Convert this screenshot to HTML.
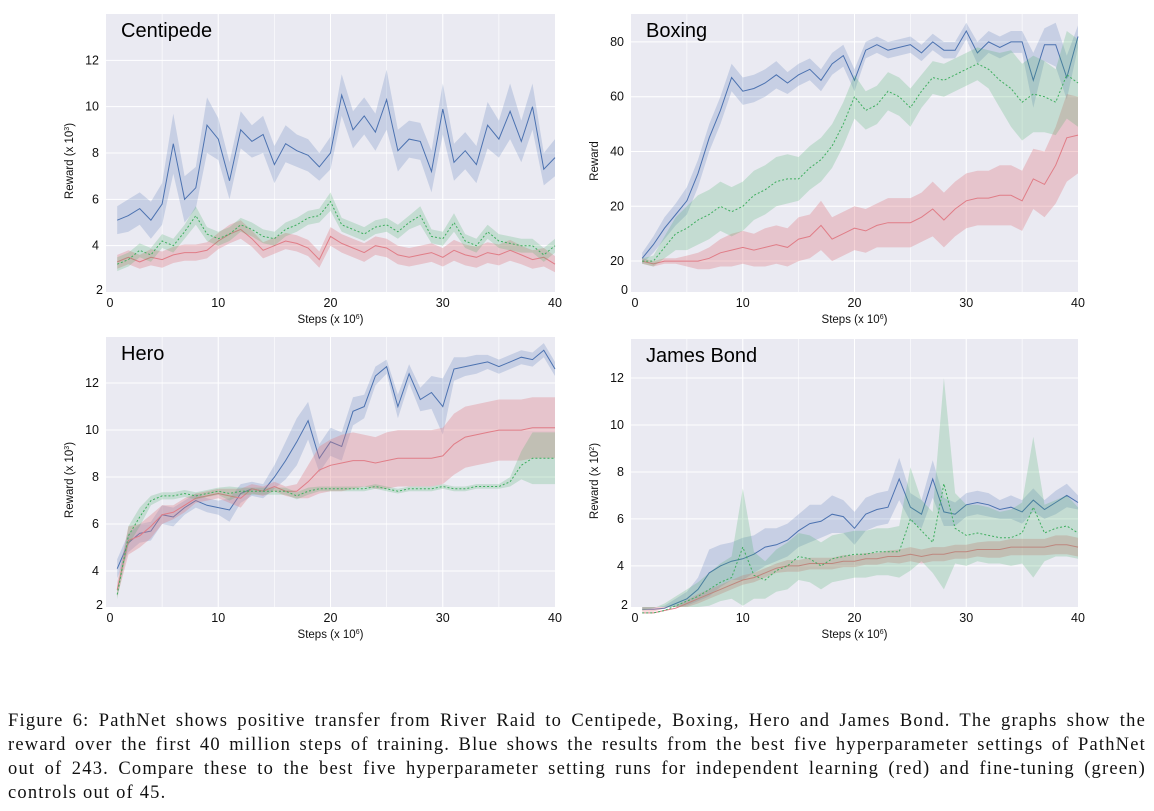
<!DOCTYPE html>
<html><head><meta charset="utf-8">
<style>
html,body{margin:0;padding:0;background:#fff;}
body{width:1154px;height:811px;position:relative;overflow:hidden;}
svg{position:absolute;left:0;top:0;}
#caption{position:absolute;left:8px;top:709px;width:1138px;font-family:"Liberation Serif",serif;font-size:18.5px;letter-spacing:1.2px;line-height:24px;color:#111;}
#caption .ln{display:block;white-space:nowrap;text-align:justify;text-align-last:justify;}
#caption .last{display:block;text-align:left;}
</style></head>
<body>
<svg id="chart" width="1154" height="700" font-family="Liberation Sans, sans-serif"></svg>
<div id="caption"><span class="ln">Figure 6: PathNet shows positive transfer from River Raid to Centipede, Boxing, Hero and James Bond. The graphs show the</span><span class="ln">reward over the first 40 million steps of training. Blue shows the results from the best five hyperparameter settings of PathNet</span><span class="ln">out of 243. Compare these to the best five hyperparameter setting runs for independent learning (red) and fine-tuning (green)</span><span class="last">controls out of 45.</span></div>
<script>
// ---- data (x = 1..40, steps x10^6) ----
const steps = [1,2,3,4,5,6,7,8,9,10,11,12,13,14,15,16,17,18,19,20,21,22,23,24,25,26,27,28,29,30,31,32,33,34,35,36,37,38,39,40];
const xTicks = [0,10,20,30,40];

const centBlue = [5.1,5.3,5.6,5.1,5.8,8.4,6.0,6.5,9.2,8.6,6.8,9.0,8.5,8.8,7.5,8.4,8.1,7.9,7.4,8.0,10.5,9.0,9.6,8.9,10.3,8.1,8.6,8.5,7.2,9.9,7.6,8.1,7.5,9.2,8.6,9.8,8.5,10.0,7.3,7.8];
const centBlueSpread = [0.6,0.7,0.7,0.8,0.9,1.3,1.0,0.9,1.2,0.9,0.8,0.8,0.7,0.8,0.8,0.8,0.7,0.7,0.6,0.7,0.9,0.8,0.8,0.8,1.3,0.9,0.8,0.8,0.9,1.1,0.8,0.8,0.8,1.0,0.8,1.2,0.9,1.0,0.7,0.8];
const centGreen = [3.2,3.4,3.8,3.6,4.2,4.0,4.6,5.3,4.5,4.3,4.5,4.9,4.7,4.4,4.3,4.7,4.9,5.2,5.3,5.9,4.9,4.7,4.5,4.8,4.9,4.6,5.0,5.3,4.4,4.3,5.0,4.2,4.0,4.6,4.2,4.1,4.0,4.0,3.6,4.0];
const centGreenSpread = [0.3,0.3,0.3,0.3,0.3,0.3,0.3,0.4,0.3,0.3,0.3,0.3,0.3,0.3,0.3,0.3,0.3,0.3,0.3,0.4,0.3,0.3,0.3,0.3,0.3,0.3,0.3,0.4,0.3,0.3,0.4,0.3,0.3,0.3,0.3,0.3,0.3,0.3,0.3,0.3];
const centRed = [3.3,3.5,3.3,3.5,3.4,3.6,3.7,3.7,3.8,4.2,4.5,4.7,4.3,3.8,4.0,4.2,4.1,3.9,3.4,4.4,4.1,3.9,3.7,4.0,3.9,3.6,3.5,3.6,3.7,3.5,3.8,3.6,3.5,3.7,3.6,3.8,3.6,3.4,3.5,3.2];
const centRedSpread = [0.3,0.3,0.3,0.35,0.35,0.35,0.35,0.35,0.35,0.35,0.4,0.4,0.35,0.35,0.35,0.35,0.35,0.35,0.35,0.4,0.4,0.4,0.4,0.4,0.4,0.4,0.4,0.4,0.4,0.4,0.45,0.45,0.45,0.45,0.45,0.45,0.4,0.4,0.4,0.35];

const boxBlue = [1,6,12,17,22,32,45,55,67,62,63,65,68,65,68,70,66,72,75,66,77,79,77,78,79,76,80,77,77,84,76,80,78,80,80,66,79,79,67,82];
const boxBlueSpread = [2,3,4,4,5,5,5,5,5,5,5,5,5,4,4,4,4,4,4,4,3,3,3,3,3,3,3,3,3,3,4,4,4,4,4,10,6,8,8,4];
const boxGreen = [0,0,5,10,12,15,17,20,18,20,24,26,29,30,30,34,37,42,50,60,55,57,62,60,56,62,67,66,68,70,72,70,66,63,58,61,60,58,68,65];
const boxGreenSpread = [1,2,4,6,8,9,9,9,9,9,9,9,9,9,8,8,8,8,8,8,7,7,7,7,7,6,6,6,6,6,6,7,10,14,14,14,13,12,16,16];
const boxRed = [0,-1,0,0,0,0,1,3,4,5,4,5,6,5,8,9,13,8,10,12,11,13,14,14,14,16,19,15,19,22,23,23,24,24,22,30,28,35,45,46];
const boxRedSpread = [1,1,1,1,2,3,4,5,6,6,6,7,7,7,8,8,9,8,8,8,8,8,9,9,9,9,10,10,10,10,10,10,11,11,11,11,12,14,16,14];
const boxTickLabels = ["20","20","40","60","80"];

const heroBlue = [4.1,5.2,5.6,5.7,6.4,6.3,6.7,7.0,6.8,6.7,6.6,7.3,7.5,7.4,8.0,8.7,9.5,10.4,8.8,9.5,9.3,10.8,11.0,12.3,12.7,11.0,12.4,11.3,11.6,11.0,12.6,12.7,12.8,12.9,12.7,12.9,13.1,13.0,13.4,12.6];
const heroBlueSpread = [0.4,0.4,0.4,0.4,0.4,0.4,0.3,0.3,0.3,0.3,0.5,0.4,0.3,0.3,0.5,0.8,1.0,0.8,0.6,0.6,0.6,0.6,0.5,0.4,0.3,0.5,0.4,0.5,0.7,1.2,0.5,0.4,0.4,0.3,0.3,0.3,0.3,0.3,0.3,0.3];
const heroRed = [3.2,5.3,5.5,5.9,6.4,6.5,6.8,7.1,7.2,7.3,7.2,7.1,7.5,7.4,7.6,7.4,7.4,7.8,8.3,8.5,8.6,8.7,8.7,8.6,8.7,8.8,8.8,8.8,8.8,8.9,9.4,9.7,9.8,9.9,10.0,10.0,10.0,10.1,10.1,10.1];
const heroRedSpread = [0.3,0.6,0.5,0.5,0.4,0.3,0.3,0.2,0.2,0.2,0.3,0.4,0.2,0.2,0.2,0.2,0.3,0.7,1.0,1.1,1.2,1.2,1.1,1.1,1.2,1.2,1.2,1.2,1.2,1.2,1.3,1.3,1.3,1.3,1.3,1.3,1.3,1.3,1.3,1.3];
const heroGreen = [3.0,5.5,6.3,7.0,7.2,7.2,7.3,7.2,7.3,7.4,7.3,7.4,7.4,7.4,7.4,7.4,7.2,7.4,7.5,7.5,7.5,7.5,7.5,7.6,7.5,7.4,7.5,7.5,7.5,7.6,7.5,7.5,7.6,7.6,7.6,7.8,8.5,8.8,8.8,8.8];
const heroGreenSpread = [0.2,0.4,0.4,0.2,0.15,0.15,0.15,0.15,0.15,0.15,0.3,0.15,0.15,0.15,0.15,0.15,0.15,0.15,0.1,0.1,0.1,0.1,0.1,0.1,0.1,0.1,0.1,0.1,0.1,0.1,0.1,0.1,0.1,0.1,0.1,0.2,0.6,1.1,1.1,1.1];

const bondBlue = [2.15,2.15,2.2,2.4,2.6,3.0,3.7,4.0,4.2,4.3,4.5,4.8,4.9,5.1,5.5,5.8,5.9,6.2,6.1,5.6,6.2,6.4,6.5,7.7,6.5,6.2,7.7,6.3,6.2,6.6,6.7,6.6,6.4,6.5,6.3,6.8,6.4,6.7,7.0,6.7];
const bondBlueSpread = [0.05,0.05,0.1,0.2,0.3,0.5,1.0,0.9,0.8,0.9,0.8,0.8,0.7,0.7,0.7,0.8,0.7,0.8,0.7,0.7,0.7,0.7,0.7,0.9,0.6,0.6,0.8,0.6,0.5,0.5,0.5,0.5,0.4,0.5,0.5,0.5,0.4,0.5,0.5,0.3];
const bondGreen = [2.0,2.0,2.1,2.3,2.5,2.7,3.0,3.3,3.5,4.8,3.6,3.4,3.8,4.0,4.4,4.3,4.0,4.3,4.4,4.5,4.5,4.6,4.6,4.6,6.0,5.5,5.0,7.5,5.6,5.3,5.4,5.3,5.2,5.2,5.4,6.5,5.4,5.6,5.7,5.4];
const bondGreenSpread = [0.1,0.2,0.3,0.4,0.5,0.6,0.7,0.8,0.9,2.5,1.0,0.8,0.9,1.0,1.0,1.0,1.0,1.0,1.0,1.0,1.0,1.0,1.0,1.1,2.2,1.3,1.3,4.5,1.5,1.3,1.2,1.2,1.1,1.2,1.3,3.0,1.2,1.2,1.3,1.1];
const bondRed = [2.0,2.0,2.1,2.2,2.4,2.6,2.8,3.0,3.2,3.4,3.5,3.7,3.9,4.0,4.0,4.1,4.1,4.1,4.2,4.2,4.3,4.3,4.4,4.4,4.5,4.4,4.5,4.5,4.6,4.6,4.7,4.7,4.7,4.8,4.8,4.8,4.8,4.9,4.9,4.8];
const bondRedSpread = [0.05,0.05,0.1,0.1,0.15,0.2,0.2,0.2,0.2,0.2,0.2,0.2,0.2,0.25,0.25,0.25,0.25,0.25,0.25,0.25,0.25,0.25,0.25,0.3,0.3,0.3,0.3,0.3,0.3,0.3,0.3,0.35,0.35,0.35,0.35,0.35,0.35,0.4,0.4,0.4];

const NS='http://www.w3.org/2000/svg';
const svg=document.getElementById('chart');
function mk(tag,attrs,parent){const e=document.createElementNS(NS,tag);for(const k in attrs)e.setAttribute(k,attrs[k]);(parent||svg).appendChild(e);return e;}

const BLUE='#4c72b0', GREEN='#3fae5f', RED='#e07d87';
function drawPanel(p){
  const g=mk('g',{});
  
  
  const xs=v=>p.l+(v-0)/(40-0)*(p.r-p.l);
  const ys=v=>p.b-(v-p.ymin)/(p.ymax-p.ymin)*(p.b-p.t);
  const bg=mk('rect',{x:p.l,y:p.t,width:p.r-p.l,height:p.b-p.t,fill:'#eaeaf2'},g);
  
  
  for(let v=5;v<40;v+=5){const ln=mk('line',{x1:xs(v),x2:xs(v),y1:p.t,y2:p.b,stroke:'#fff','stroke-width':v%10?0.6:1},g);
    }
  p.ticks.forEach(v=>{const y=ys(v);if(y>p.t&&y<p.b-2){const ln=mk('line',{x1:p.l,x2:p.r,y1:y,y2:y,stroke:'#fff','stroke-width':1},g);
    }});
  p.ticks.forEach((v,i)=>{const y=ys(v);if(y<p.b-2){const t=mk('text',{x:p.l-7,y:y+4,'text-anchor':'end','font-size':12.5,fill:'#111'},g);t.textContent=p.labels[i];
    }});
  const cl=mk('text',{x:p.l-3,y:p.b+2,'text-anchor':'end','font-size':12.5,fill:'#111'},g);cl.textContent=p.corner;
  
  xTicks.forEach(v=>{const t=mk('text',{x:xs(v)+(v===0?4:0),y:p.b+15,'text-anchor':'middle','font-size':12.5,fill:'#111'},g);t.textContent=v;
    });
  const xt=mk('text',{x:(p.l+p.r)/2,y:p.b+31,'text-anchor':'middle','font-size':11.5,fill:'#111'},g);
  xt.innerHTML='Steps (x 10<tspan dy="-4" font-size="7">6</tspan><tspan dy="4">)</tspan>';
  
  const yt=mk('text',{x:0,y:0,'text-anchor':'middle','font-size':11.5,fill:'#111',transform:`translate(${p.l-33},${(p.t+p.b)/2+8}) rotate(-90)`},g);
  yt.innerHTML=p.ylabel;
  
  const tt=mk('text',{x:p.l+15,y:p.t+23,'font-size':20,fill:'#000'},g);tt.textContent=p.title;
  
  p.series.forEach(s=>{
    let up='',lo='';
    steps.forEach((x,i)=>{up+=(i?'L':'M')+xs(x).toFixed(1)+','+ys(Math.min(p.ymax,s.m[i]+s.s[i])).toFixed(1);});
    for(let i=steps.length-1;i>=0;i--){lo+='L'+xs(steps[i]).toFixed(1)+','+ys(Math.max(p.ymin,s.m[i]-s.s[i])).toFixed(1);}
    const band=mk('path',{d:up+lo+'Z',fill:s.c,'fill-opacity':s.op,stroke:'none'},g);
    
    let d='';steps.forEach((x,i)=>{d+=(i?'L':'M')+xs(x).toFixed(1)+','+ys(s.m[i]).toFixed(1);});
    const ln=mk('path',{d:d,fill:'none',stroke:s.c,'stroke-width':1,'stroke-dasharray':s.dash||'none'},g);
    
  });
}
const sup3='Reward (x 10<tspan dy="-4" font-size="7">3</tspan><tspan dy="4">)</tspan>';
const sup2='Reward (x 10<tspan dy="-4" font-size="7">2</tspan><tspan dy="4">)</tspan>';
drawPanel({name:'centipede',title:'Centipede',l:106,r:555,t:14,b:292,ymin:2,ymax:14,ticks:[4,6,8,10,12],labels:['4','6','8','10','12'],corner:'2',ylabel:sup3,
  series:[{n:'pathnet',m:centBlue,s:centBlueSpread,c:BLUE,op:0.22},{n:'independent',m:centRed,s:centRedSpread,c:RED,op:0.35},{n:'fine-tuning',m:centGreen,s:centGreenSpread,c:GREEN,op:0.22,dash:'2,2'}]});
drawPanel({name:'boxing',title:'Boxing',l:631,r:1078,t:14,b:292,ymin:-11.3,ymax:90.2,ticks:[0,20,40,60,80],labels:boxTickLabels,corner:'0',ylabel:'Reward',
  series:[{n:'pathnet',m:boxBlue,s:boxBlueSpread,c:BLUE,op:0.22},{n:'independent',m:boxRed,s:boxRedSpread,c:RED,op:0.35},{n:'fine-tuning',m:boxGreen,s:boxGreenSpread,c:GREEN,op:0.22,dash:'2,2'}]});
drawPanel({name:'hero',title:'Hero',l:106,r:555,t:337,b:607,ymin:2.47,ymax:13.96,ticks:[4,6,8,10,12],labels:['4','6','8','10','12'],corner:'2',ylabel:sup3,
  series:[{n:'pathnet',m:heroBlue,s:heroBlueSpread,c:BLUE,op:0.22},{n:'independent',m:heroRed,s:heroRedSpread,c:RED,op:0.35},{n:'fine-tuning',m:heroGreen,s:heroGreenSpread,c:GREEN,op:0.22,dash:'2,2'}]});
drawPanel({name:'james-bond',title:'James Bond',l:631,r:1078,t:339,b:607,ymin:2.25,ymax:13.66,ticks:[4,6,8,10,12],labels:['4','6','8','10','12'],corner:'2',ylabel:sup2,
  series:[{n:'pathnet',m:bondBlue,s:bondBlueSpread,c:BLUE,op:0.22},{n:'independent',m:bondRed,s:bondRedSpread,c:RED,op:0.35},{n:'fine-tuning',m:bondGreen,s:bondGreenSpread,c:GREEN,op:0.22,dash:'2,2'}]});
</script>
</body></html>
